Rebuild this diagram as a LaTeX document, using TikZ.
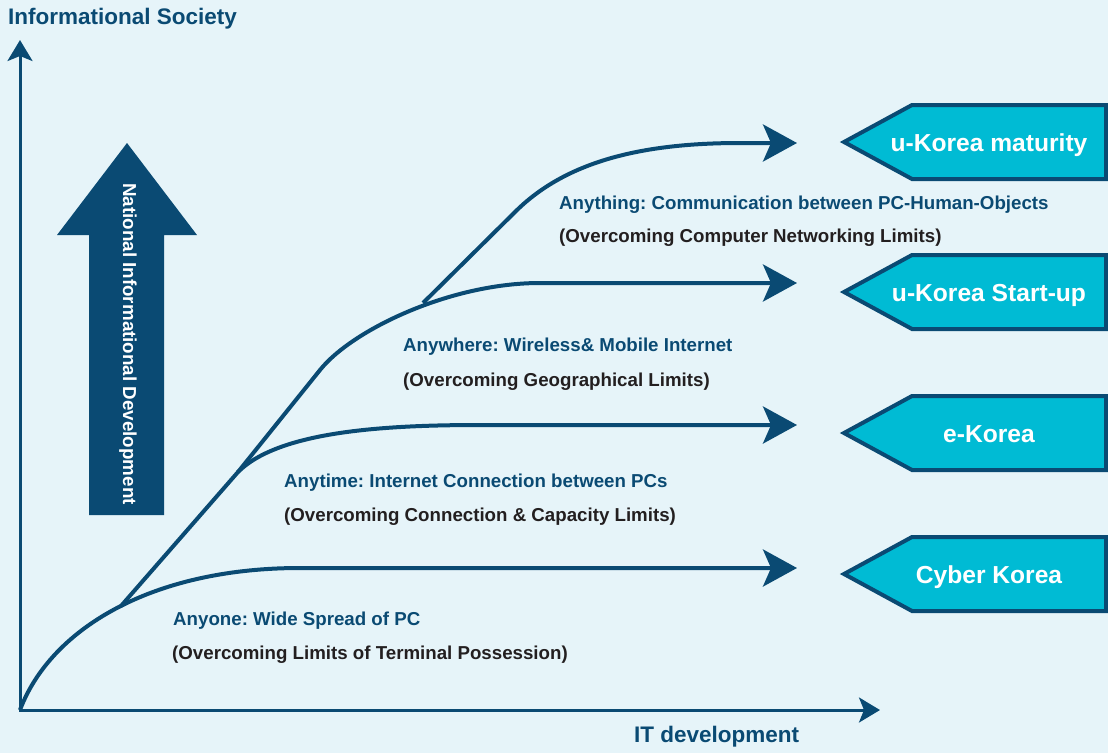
\documentclass[tikz,border=0pt]{standalone}
\usepackage{fontspec}
\setmainfont{Liberation Sans}
\usetikzlibrary{arrows.meta}
\usetikzlibrary{positioning}
\frenchspacing

\definecolor{navy}{RGB}{10,74,115}
\definecolor{skyback}{RGB}{230,244,249}
\definecolor{flagcyan}{RGB}{0,187,212}
\definecolor{inkdark}{RGB}{35,31,32}

\tikzset{
  axistip/.tip={Stealth[length=21pt,width=25pt,inset=5pt]},
  growtip/.tip={Stealth[length=34pt,width=37pt,inset=8pt]},
  axis/.style={draw=navy,line width=3pt,line join=miter},
  growth/.style={draw=navy,line width=4pt,-growtip},
  flag/.style={draw=navy,line width=4pt,fill=flagcyan,line join=miter},
  flagtext/.style={text=white,font=\fontsize{24.6}{28}\selectfont\bfseries,anchor=base,inner sep=0pt},
  axislabel/.style={text=navy,font=\fontsize{22.5}{26}\selectfont\bfseries,anchor=base west,inner sep=0pt},
  stagelabel/.style={text=navy,font=\fontsize{18.7}{22}\selectfont\bfseries,anchor=base west,inner sep=0pt},
  stagenote/.style={stagelabel,text=inkdark}
}

\begin{document}
\begin{tikzpicture}[x=1pt,y=-1pt]
    % Background and page size.
    \fill[skyback] (0,0) rectangle (1108,753);
    \useasboundingbox (0,0) rectangle (1108,753);

    % Draw the axis of the plot.
    \coordinate (o) at (20,710);
    \draw[axis,axistip-axistip] (20,40) -- (o) -- (880,710);
    \node[axislabel] (society) at (8,24) {Informational Society};
    \node[axislabel] (itdev) at (634,742) {IT development};

    % The big upward arrow.
    \fill[navy] (89,515) -- (89,235) -- (57,235) -- (127,143) -- (197,235)
        -- (164,235) -- (164,515) -- cycle;
    \node[rotate=-90,text=white,font=\fontsize{18.8}{22}\selectfont\bfseries] (natdev)
        at (128,344) {National Informational Development};

    % Junctions where the curves branch off.
    \coordinate (j1) at (121,606);
    \coordinate (j2) at (238,472);
    \coordinate (j3) at (423,303);

    % Draw the growth curves.
    \draw[growth] (o) .. controls (50,630) and (150,568) .. (300,568) -- (797,568);
    \draw[growth] (j1) -- (j2) .. controls (278,432) and (380,425) .. (480,425) -- (797,425);
    \draw[growth] (j2) -- (320,370) .. controls (352,330) and (450,283) .. (540,283) -- (797,283);
    \draw[growth] (j3) -- (515,212) .. controls (565,162) and (640,143) .. (740,143) -- (797,143);

    % The stages and their limits.
    \node[stagelabel] (anyone) at (173,625) {Anyone: Wide Spread of PC};
    \node[stagenote] (anyonenote) at (172,659) {(Overcoming Limits of Terminal Possession)};

    \node[stagelabel] (anytime) at (284,487) {Anytime: Internet Connection between PCs};
    \node[stagenote] (anytimenote) at (284,521) {(Overcoming Connection \& Capacity Limits)};

    \node[stagelabel] (anywhere) at (403,351) {Anywhere: Wireless\& Mobile Internet};
    \node[stagenote] (anywherenote) at (403,386) {(Overcoming Geographical Limits)};

    \node[stagelabel] (anything) at (559,209) {Anything: Communication between PC-Human-Objects};
    \node[stagenote] (anythingnote) at (559,242) {(Overcoming Computer Networking Limits)};

    % Draw the flags on the right.
    \foreach \y/\name/\txt in {142/maturity/u-Korea maturity, 292/startup/u-Korea Start-up,
                               433/ekorea/e-Korea, 574/cyber/Cyber Korea} {
        \draw[flag] (1106,\y-37) -- (912,\y-37) -- (844,\y) -- (912,\y+37) -- (1106,\y+37) -- cycle;
        \node[flagtext] (\name) at (989,\y+9) {\txt};
    }
\end{tikzpicture}
\end{document}
